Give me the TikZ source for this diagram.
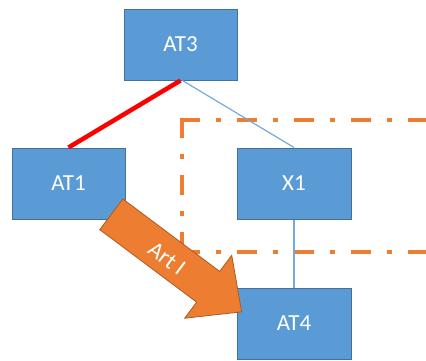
\documentclass[tikz,border=0pt]{standalone}
\usepackage{fontspec}
\setmainfont{Carlito}
\usepackage{tikz}
\usetikzlibrary{calc}
\definecolor{boxBlue}{HTML}{5B9BD5}
\definecolor{boxEdge}{HTML}{41719C}
\definecolor{artOrange}{HTML}{ED7D31}
\definecolor{artEdge}{HTML}{AE5A21}
\def\scale{1}

\begin{document}
\begin{tikzpicture}[x=1pt, y=1pt, scale=\scale, line cap=butt,
	atbox/.style={draw=boxEdge, fill=boxBlue, line width=1pt, minimum width=113pt, minimum height=71pt, inner sep=0pt, text=white, font=\fontsize{23}{27}\selectfont},
	frameline/.style={artOrange, line width=4pt, dash pattern=on 20pt off 16pt on 5pt off 16pt},
	thinlink/.style={boxBlue!85, line width=1.2pt},
	artarrow/.style={fill=artOrange, draw=artEdge, line width=0.8pt, line join=miter}]
	\useasboundingbox (0,0) rectangle (426,360);

	\draw[frameline] (179.5,240) -- (426,240);
	\draw[frameline] (181.5,242) -- (181.5,108.5);
	\draw[frameline] (179.5,108.5) -- (426,108.5);

	\node[atbox] (AT3) at (180.5,315.5) {AT3};
	\node[atbox] (AT1) at (68.5,176.5) {AT1};
	\node[atbox, minimum width=114pt] (X1) at (294,176.5) {X1};
	\node[atbox, minimum width=114pt] (AT4) at (294,36.5) {AT4};

	\draw[red, line width=4.5pt] (AT3.south) -- (AT1.north);
	\draw[thinlink] ([xshift=2pt]AT3.south) -- (X1.north);
	\draw[thinlink] (X1.south) -- (AT4.north);

	\begin{scope}[shift={(111.3,145.7)}, rotate=-36.8]
		\filldraw[artarrow] (0,19.2) -- (121,19.2) -- (121,39.3) -- (162.8,0) -- (121,-39.3) -- (121,-19.2) -- (0,-19.2) -- cycle;
		\node[rotate=-36.8, text=white, font=\fontsize{23}{27}\selectfont] (artI) at (71,-2) {Art I};
	\end{scope}

\end{tikzpicture}
\end{document}
